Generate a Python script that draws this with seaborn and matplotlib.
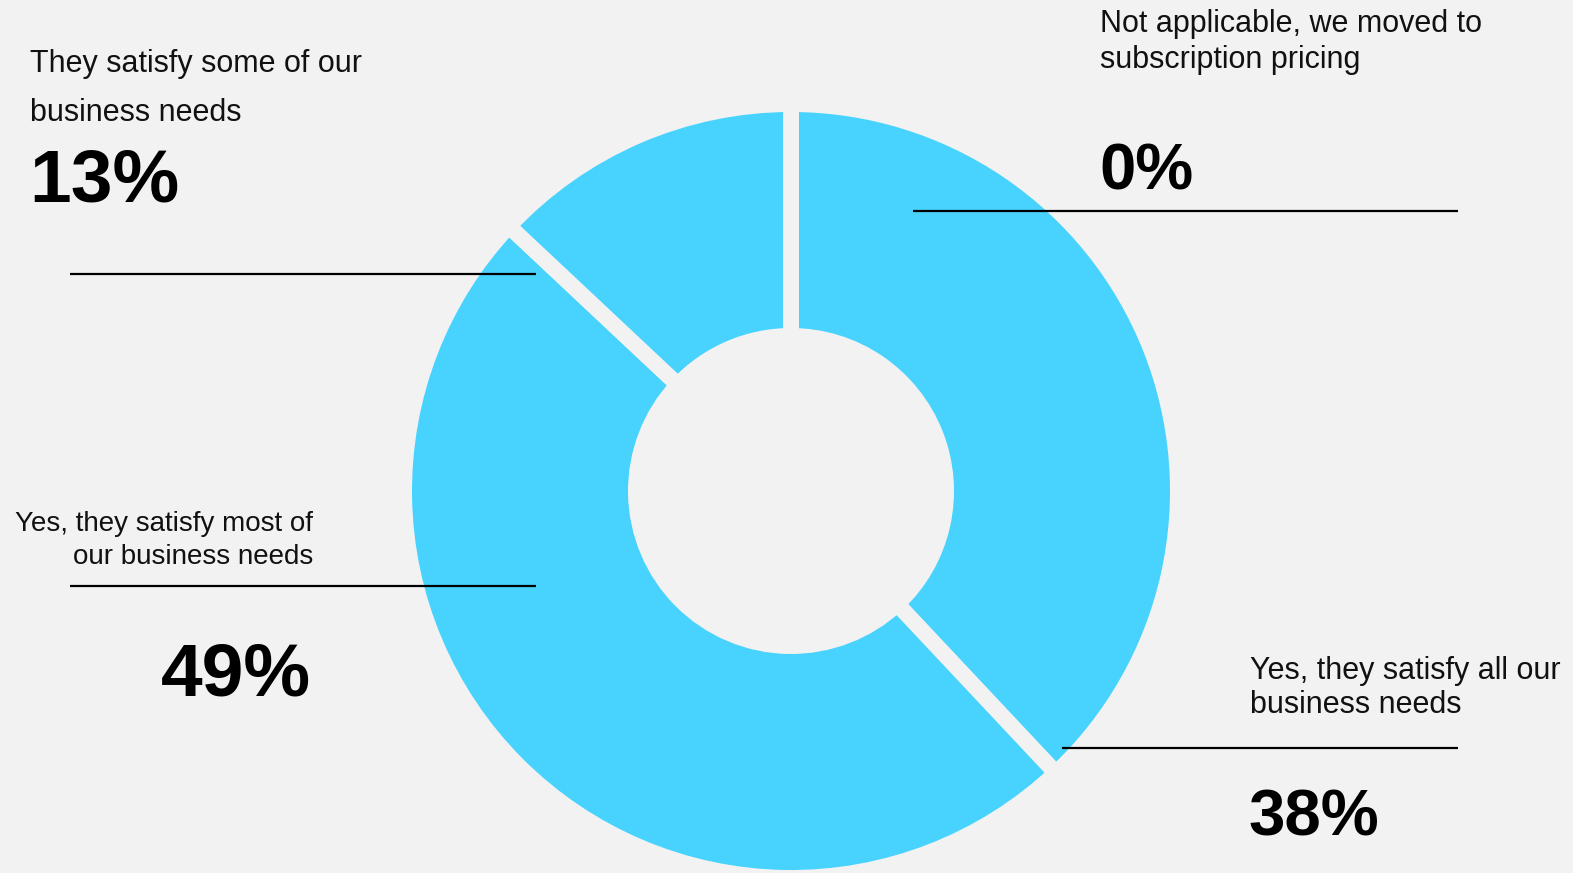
import matplotlib
matplotlib.use("Agg")
import matplotlib.pyplot as plt
import seaborn as sns

# data
categories = [
    "Not applicable, we moved to\nsubscription pricing",
    "Yes, they satisfy all our\nbusiness needs",
    "Yes, they satisfy most of\nour business needs",
    "They satisfy some of our\nbusiness needs",
]
shares = [0, 38, 49, 13]
pct_labels = ["0%", "38%", "49%", "13%"]

BG = "#f2f2f2"
SLICE = "#48d3fe"

sns.set_theme(style="white", rc={"figure.facecolor": BG, "axes.facecolor": BG})
plt.rcParams["font.family"] = ["Liberation Sans", "DejaVu Sans"]

W, H = 1573, 873
fig = plt.figure(figsize=(W / 100, H / 100), dpi=100)
ax = fig.add_axes([0, 0, 1, 1])

# donut, clockwise from 12 o'clock; wide background-coloured edges make the gaps
gap = 16
r_out, r_in = 379, 163
ax.pie(shares, colors=[SLICE] * len(shares), startangle=90, counterclock=False,
       center=(791, H - 491), radius=r_out + gap / 2,
       wedgeprops=dict(width=(r_out - r_in) + gap, edgecolor=BG,
                       linewidth=gap * 72 / 100))

ax.set_xlim(0, W)
ax.set_ylim(0, H)
ax.set_aspect("equal")
ax.axis("off")

# label layout in pixels:
# (x, first baseline, line step, align, text size, pct x, pct baseline, pct align, pct size)
layout = [
    (1100, 32, 36, "left", 22, 1099, 190, "left", 47),
    (1250, 679, 34, "left", 22, 1248, 836, "left", 47),
    (313, 531, 33, "right", 20, 311, 696, "right", 54),
    (30, 72, 49, "left", 22, 29, 202, "left", 54),
]
# leader lines (x0, x1, y) in pixels
leaders = [(913, 1458, 211), (1062, 1458, 748), (70, 536, 586), (70, 536, 274)]

for cat, pct, lay, ld in zip(categories, pct_labels, layout, leaders):
    x, y0, step, ha, tsize, px, py, pha, psize = lay
    for i, line in enumerate(cat.split("\n")):
        ax.text(x, H - (y0 + i * step), line, fontsize=tsize, ha=ha,
                va="baseline", color="#111111")
    ax.text(px, H - py, pct, fontsize=psize, fontweight="bold", ha=pha,
            va="baseline", color="black")
    ax.plot([ld[0], ld[1]], [H - ld[2], H - ld[2]], color="black", lw=1.6,
            solid_capstyle="butt")

fig.savefig("out.png", dpi=100, facecolor=BG)
